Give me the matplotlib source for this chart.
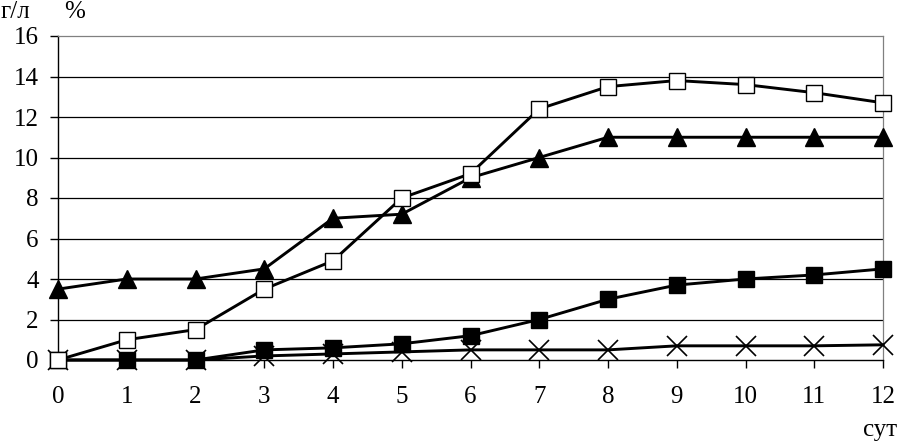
import matplotlib
matplotlib.use("Agg")
import matplotlib.pyplot as plt

days = [0, 1, 2, 3, 4, 5, 6, 7, 8, 9, 10, 11, 12]
open_sq = [0, 1.0, 1.5, 3.5, 4.9, 8.0, 9.2, 12.4, 13.5, 13.8, 13.6, 13.2, 12.7]
triangles = [3.5, 4.0, 4.0, 4.5, 7.0, 7.2, 9.0, 10.0, 11.0, 11.0, 11.0, 11.0, 11.0]
filled_sq = [0, 0, 0, 0.5, 0.6, 0.8, 1.2, 2.0, 3.0, 3.7, 4.0, 4.2, 4.5]
crosses = [0, 0, 0, 0.2, 0.3, 0.4, 0.5, 0.5, 0.5, 0.7, 0.7, 0.7, 0.75]
yticks = [0, 2, 4, 6, 8, 10, 12, 14, 16]

plt.rcParams['font.family'] = ['Liberation Serif', 'DejaVu Serif']

fig = plt.figure(figsize=(8.97, 4.43), dpi=100)
ax = fig.add_axes([58/897, 1-360/443, (883-58)/897, (360-36)/443])

ax.set_xlim(0, 12)
ax.set_ylim(0, 16)
ax.set_yticks(yticks)
ax.set_xticks(days)
for y in yticks[1:-1]:
    ax.axhline(y, color='black', lw=0.9, zorder=1)

ax.spines['top'].set_color('#808080')
ax.spines['right'].set_color('#808080')
ax.spines['top'].set_linewidth(0.9)
ax.spines['right'].set_linewidth(0.9)
ax.spines['left'].set_linewidth(1.0)
ax.spines['bottom'].set_linewidth(1.0)

fs = 18
ax.tick_params(axis='both', direction='out', length=6, width=1.0, labelsize=fs, colors='black')
ax.tick_params(axis='x', pad=13)
ax.tick_params(axis='y', pad=8)

lw = 2.1
ax.plot(days, crosses, color='black', lw=lw, marker='x', markersize=14, markeredgewidth=1.2, clip_on=False, zorder=3)
ax.plot(days, filled_sq, color='black', lw=lw, marker='s', markersize=12, markerfacecolor='black', clip_on=False, zorder=4)
ax.plot(days, triangles, color='black', lw=lw, marker='^', markersize=13, markerfacecolor='black', clip_on=False, zorder=5)
ax.plot(days, open_sq, color='black', lw=lw, marker='s', markersize=12, markerfacecolor='white', markeredgewidth=1.0, clip_on=False, zorder=6)

fig.text(1/897, 1-12/443, 'г/л', fontsize=fs, va='center', ha='left')
fig.text(64/897, 1-12/443, '%', fontsize=fs, va='center', ha='left')
fig.text(897/897, 1-430/443, 'сут', fontsize=fs, va='center', ha='right')

fig.savefig('out.png', dpi=100)
